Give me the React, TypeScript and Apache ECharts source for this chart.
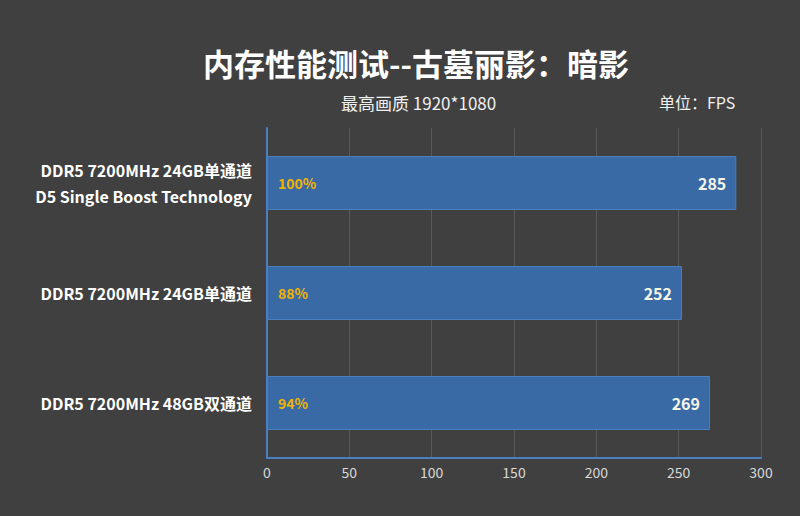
import React, { useEffect, useRef } from "react";
import * as echarts from "echarts";

// 数据
const categories = [
  "DDR5 7200MHz 24GB单通道\nD5 Single Boost Technology",
  "DDR5 7200MHz 24GB单通道",
  "DDR5 7200MHz 48GB双通道",
];
const fpsValues = [285, 252, 269];
const percentLabels = ["100%", "88%", "94%"];
const xTicks = [0, 50, 100, 150, 200, 250, 300];

const App: React.FC = () => {
  const chartRef = useRef<HTMLDivElement>(null);

  useEffect(() => {
    document.body.style.margin = "0";
    const chart = echarts.init(chartRef.current!, null, { renderer: "svg" });
    const font = "'Noto Sans CJK SC', 'Noto Sans', sans-serif";

    chart.setOption({
      animation: false,
      backgroundColor: "#404040",
      textStyle: { fontFamily: font },
      title: [
        {
          text: "内存性能测试--古墓丽影：暗影",
          left: 198,
          top: 42,
          textStyle: { color: "#ffffff", fontSize: 31, fontWeight: "bold", fontFamily: font },
        },
        {
          text: "最高画质 1920*1080",
          left: 336,
          top: 89,
          textStyle: { color: "#f0f0f0", fontSize: 17, fontWeight: "normal", fontFamily: font },
        },
        {
          text: "单位：FPS",
          left: 654,
          top: 89,
          textStyle: { color: "#f0f0f0", fontSize: 16, fontWeight: "normal", fontFamily: font },
        },
      ],
      grid: { left: 267, right: 39, top: 128, bottom: 58 },
      xAxis: {
        type: "value",
        min: xTicks[0],
        max: xTicks[xTicks.length - 1],
        interval: 50,
        axisLine: { show: true, lineStyle: { color: "#4a7fc4", width: 2 } },
        axisTick: { show: false },
        axisLabel: { color: "#d9d9d9", fontSize: 14, margin: 7 },
        splitLine: { lineStyle: { color: "#595959", width: 1 } },
      },
      yAxis: {
        type: "category",
        data: categories,
        inverse: true,
        axisLine: { show: true, lineStyle: { color: "#4a7fc4", width: 2 } },
        axisTick: { show: false },
        axisLabel: {
          color: "#ffffff",
          fontSize: 16,
          fontWeight: "bold",
          margin: 15,
          lineHeight: 26,
          align: "right",
        },
      },
      series: [
        {
          type: "bar",
          data: fpsValues,
          barWidth: 54,
          itemStyle: { color: "#3a6aa6", borderColor: "#4a7fc0", borderWidth: 1 },
          label: {
            show: true,
            position: "insideRight",
            distance: 10,
            color: "#f5f5e6",
            fontSize: 16,
            fontWeight: "bold",
          },
        },
        {
          type: "bar",
          data: fpsValues,
          barWidth: 54,
          barGap: "-100%",
          itemStyle: { color: "transparent" },
          label: {
            show: true,
            position: "insideLeft",
            distance: 11,
            color: "#f0b400",
            fontSize: 14,
            fontWeight: "bold",
            formatter: (p: any) => percentLabels[p.dataIndex],
          },
        },
      ],
    });

    return () => {
      chart.dispose();
    };
  }, []);

  return <div ref={chartRef} style={{ width: 800, height: 516 }} />;
};

export default App;
